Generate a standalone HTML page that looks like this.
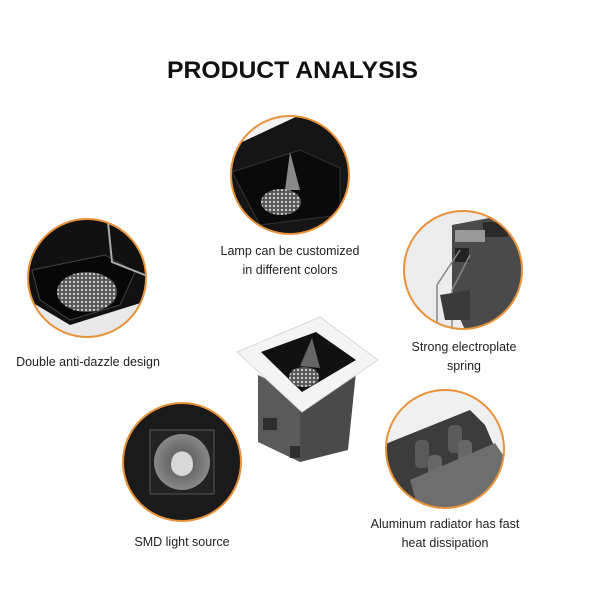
<!DOCTYPE html>
<html><head><meta charset="utf-8"><style>
html,body{margin:0;padding:0;background:#fff;width:600px;height:600px;overflow:hidden}
svg{display:block}
text{font-family:"Liberation Sans",sans-serif}
</style></head><body>
<svg width="600" height="600" viewBox="0 0 600 600" xmlns="http://www.w3.org/2000/svg">
<defs>
<clipPath id="c1"><circle cx="290" cy="175" r="59"/></clipPath>
<clipPath id="c2"><circle cx="87" cy="278" r="59"/></clipPath>
<clipPath id="c3"><circle cx="463" cy="270" r="59"/></clipPath>
<clipPath id="c4"><circle cx="182" cy="462" r="59"/></clipPath>
<clipPath id="c5"><circle cx="445" cy="449" r="59"/></clipPath>
<pattern id="mesh" width="4" height="4" patternUnits="userSpaceOnUse"><rect width="4" height="4" fill="#555"/><circle cx="2" cy="2" r="1.2" fill="#ccc"/></pattern>
<radialGradient id="rib" cx="50%" cy="50%" r="50%"><stop offset="0.35" stop-color="#ddd"/><stop offset="0.4" stop-color="#666"/><stop offset="1" stop-color="#888"/></radialGradient>
</defs>
<text x="167" y="78" textLength="251" lengthAdjust="spacingAndGlyphs" font-size="24" font-weight="bold" fill="#111">PRODUCT ANALYSIS</text>

<g clip-path="url(#c1)">
<rect x="220" y="105" width="140" height="140" fill="#f2f2f2"/>
<polygon points="225,150 300,115 360,130 360,245 225,245" fill="#151515"/>
<polygon points="232,172 300,150 340,168 340,215 260,225" fill="#0a0a0a" stroke="#333"/>
<path d="M290,152 L300,190 L285,190 Z" fill="#888"/>
<ellipse cx="281" cy="202" rx="20" ry="13" fill="url(#mesh)"/>
</g>
<circle cx="290" cy="175" r="59" fill="none" stroke="#e8923a" stroke-width="2"/>

<g clip-path="url(#c2)">
<rect x="25" y="215" width="130" height="130" fill="#e9e9e9"/>
<polygon points="28,218 150,218 150,300 70,325 28,300" fill="#111"/>
<polygon points="32,270 105,255 135,272 120,305 70,320 40,300" fill="#070707" stroke="#444"/>
<path d="M108,222 L112,262 L145,275" fill="none" stroke="#aaa" stroke-width="2"/>
<ellipse cx="87" cy="292" rx="30" ry="20" fill="url(#mesh)"/>
</g>
<circle cx="87" cy="278" r="59" fill="none" stroke="#e8923a" stroke-width="2"/>

<g clip-path="url(#c3)">
<rect x="400" y="205" width="130" height="130" fill="#ececec"/>
<polygon points="452,225 505,215 525,225 525,320 465,330 452,300" fill="#4a4a4a"/>
<rect x="483" y="222" width="25" height="15" fill="#2a2a2a"/>
<rect x="455" y="230" width="30" height="12" fill="#999"/>
<rect x="455" y="248" width="14" height="14" fill="#222"/>
<path d="M460,250 L437,285 L437,330 M470,255 L452,290 L452,330" fill="none" stroke="#888" stroke-width="1.5"/>
<polygon points="440,295 470,290 470,320 445,320" fill="#3a3a3a"/>
</g>
<circle cx="463" cy="270" r="59" fill="none" stroke="#e8923a" stroke-width="2"/>

<g clip-path="url(#c4)">
<rect x="120" y="400" width="125" height="125" fill="#1a1a1a"/>
<rect x="150" y="430" width="64" height="64" fill="#222" stroke="#555"/>
<circle cx="182" cy="462" r="28" fill="url(#rib)"/>
<circle cx="182" cy="465" r="11" fill="#d8d8d8"/>
</g>
<circle cx="182" cy="462" r="59" fill="none" stroke="#e8923a" stroke-width="2"/>

<g clip-path="url(#c5)">
<rect x="383" y="388" width="125" height="125" fill="#f0f0f0"/>
<polygon points="383,445 470,410 485,425 500,460 430,500 400,505 383,490" fill="#3c3c3c"/>
<rect x="415" y="440" width="14" height="28" rx="5" fill="#5a5a5a"/>
<rect x="428" y="455" width="14" height="28" rx="5" fill="#666"/>
<rect x="448" y="425" width="14" height="28" rx="5" fill="#5a5a5a"/>
<rect x="458" y="440" width="14" height="28" rx="5" fill="#666"/>
<polygon points="410,480 495,443 503,455 500,500 420,515" fill="#6e6e6e"/>
</g>
<circle cx="445" cy="449" r="59" fill="none" stroke="#e8923a" stroke-width="2"/>

<!-- center product -->
<polygon points="258,375 300,395 300,462 258,442" fill="#5a5a5a"/>
<polygon points="300,395 356,372 348,450 300,462" fill="#4a4a4a"/>
<rect x="263" y="418" width="14" height="12" fill="#2e2e2e"/>
<rect x="290" y="446" width="10" height="12" fill="#2e2e2e"/>
<polygon points="237,352 320,317 378,360 302,412" fill="#f4f4f4" stroke="#d8d8d8"/>
<polygon points="261,352 316,332 356,360 302,392" fill="#111"/>
<path d="M312,338 L320,368 L300,366 Z" fill="#666"/>
<ellipse cx="304" cy="377" rx="15" ry="10" fill="url(#mesh)"/>

<g font-size="12.5" fill="#222" text-anchor="middle">
<text x="290" y="255">Lamp can be customized</text>
<text x="290" y="274">in different colors</text>
<text x="88" y="366">Double anti-dazzle design</text>
<text x="464" y="351">Strong electroplate</text>
<text x="464" y="370">spring</text>
<text x="182" y="546">SMD light source</text>
<text x="445" y="528">Aluminum radiator has fast</text>
<text x="445" y="547">heat dissipation</text>
</g>
</svg>
</body></html>
